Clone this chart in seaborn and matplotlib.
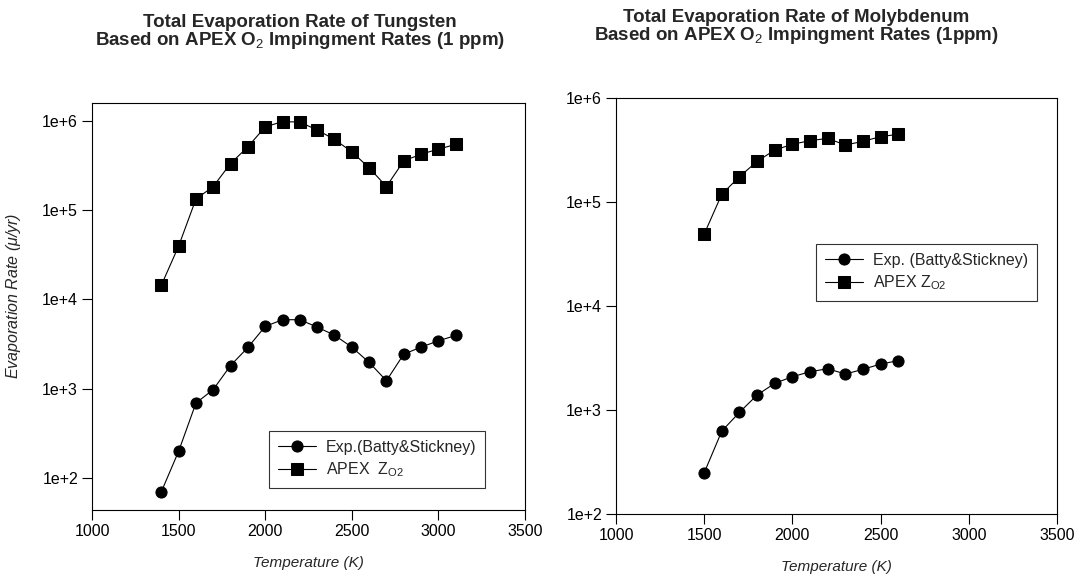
import numpy as np
import pandas as pd
import matplotlib
matplotlib.use("Agg")
import matplotlib.pyplot as plt
import seaborn as sns
from matplotlib.ticker import FixedLocator, FuncFormatter, NullLocator

# ---- data ----
w_temp = [1400, 1500, 1600, 1700, 1800, 1900, 2000, 2100, 2200, 2300, 2400,
          2500, 2600, 2700, 2800, 2900, 3000, 3100]
w_exp = [70, 199, 690, 980, 1820, 2900, 4990, 5930, 5930, 4900, 3980,
         2925, 1970, 1230, 2440, 2925, 3440, 3950]
w_apex = [1.44e4, 3.95e4, 1.33e5, 1.84e5, 3.33e5, 5.12e5, 8.57e5, 9.8e5, 9.7e5,
          7.9e5, 6.2e5, 4.5e5, 2.98e5, 1.84e5, 3.56e5, 4.24e5, 4.82e5, 5.45e5]

mo_temp = [1500, 1600, 1700, 1800, 1900, 2000, 2100, 2200, 2300, 2400, 2500, 2600]
mo_exp = [249, 628, 950, 1394, 1806, 2090, 2333, 2494, 2218, 2460, 2767, 2980]
mo_apex = [4.92e4, 1.19e5, 1.75e5, 2.46e5, 3.16e5, 3.59e5, 3.89e5, 4.09e5,
           3.53e5, 3.83e5, 4.25e5, 4.48e5]

x_ticks = [1000, 1500, 2000, 2500, 3000, 3500]
y_ticks = [1e2, 1e3, 1e4, 1e5, 1e6]

title_w = ["Total Evaporation Rate of Tungsten",
           "Based on APEX O$_\\mathrm{2}$ Impingment Rates (1 ppm)"]
title_mo = ["Total Evaporation Rate of Molybdenum",
            "Based on APEX O$_\\mathrm{2}$ Impingment Rates (1ppm)"]
lab_exp_w = "Exp.(Batty&Stickney)"
lab_exp_mo = "Exp. (Batty&Stickney)"
lab_apex_w = "APEX  Z$_\\mathrm{O2}$"
lab_apex_mo = "APEX Z$_\\mathrm{O2}$"
xlabel = "Temperature (K)"
ylabel = "Evaporation Rate ($\\mu$/yr)"

sns.set_theme(style="ticks")
plt.rcParams['font.family'] = ['Liberation Sans', 'DejaVu Sans']
plt.rcParams['mathtext.fontset'] = 'custom'
plt.rcParams['mathtext.rm'] = 'Liberation Sans'
plt.rcParams['mathtext.it'] = 'Liberation Sans:italic'
plt.rcParams['mathtext.bf'] = 'Liberation Sans:bold'

fig = plt.figure(figsize=(10.83, 5.77), dpi=100)
ax1 = fig.add_axes([92/1083, 1-510/577, (525-92)/1083, (510-103)/577])
ax2 = fig.add_axes([616/1083, 1-514/577, (1057-616)/1083, (514-98)/577])


def draw(ax, temp, exp, apex, lab_e, lab_a, ylim):
    df_e = pd.DataFrame({"T": temp, "v": exp})
    df_a = pd.DataFrame({"T": temp, "v": apex})
    sns.lineplot(data=df_e, x="T", y="v", ax=ax, color="black", marker="o",
                 markersize=8, markeredgecolor="black", linewidth=0.8, label=lab_e)
    sns.lineplot(data=df_a, x="T", y="v", ax=ax, color="black", marker="s",
                 markersize=8, markeredgecolor="black", linewidth=0.8, label=lab_a)
    ax.set_yscale("log")
    ax.set_xlim(1000, 3500)
    ax.set_ylim(*ylim)
    ax.xaxis.set_major_locator(FixedLocator(x_ticks))
    ax.yaxis.set_major_locator(FixedLocator(y_ticks))
    ax.yaxis.set_minor_locator(NullLocator())
    ax.xaxis.set_minor_locator(NullLocator())
    ax.yaxis.set_major_formatter(FuncFormatter(lambda v, p: "1e+%d" % round(np.log10(v))))
    ax.tick_params(direction="out", length=7, width=0.8, labelsize=11.5, colors="black", pad=3)
    for s in ax.spines.values():
        s.set_visible(True)
        s.set_color("black")
        s.set_linewidth(0.8)
    ax.set_xlabel(xlabel, fontsize=11, style="italic", labelpad=12)


draw(ax1, w_temp, w_exp, w_apex, lab_exp_w, lab_apex_w, (10**1.642, 10**6.2))
draw(ax2, mo_temp, mo_exp, mo_apex, lab_exp_mo, lab_apex_mo, (1e2, 1e6))

ax1.set_ylabel(ylabel, fontsize=11.5, style="italic")
ax1.yaxis.set_label_coords((23-92)/433, (510-296)/407)
ax2.set_ylabel("")

leg_kw = dict(frameon=True, fancybox=False, edgecolor="black", fontsize=11.5,
              handlelength=2.4, borderpad=0.55, labelspacing=0.35, handletextpad=0.6,
              borderaxespad=0)
leg1 = ax1.legend(loc="lower left", bbox_to_anchor=((269-92)/433, (510-488)/407), **leg_kw)
leg1.get_frame().set_linewidth(0.8)
leg2 = ax2.legend(loc="upper left", bbox_to_anchor=((816-616)/441, (514-244)/416), **leg_kw)
leg2.get_frame().set_linewidth(0.8)

for (cx, b1, b2), lines in [((300, 27, 45), title_w), ((796, 22, 40), title_mo)]:
    fig.text(cx/1083, 1-b1/577, lines[0], ha="center", va="baseline", fontsize=13.5,
             fontweight="bold")
    fig.text(cx/1083, 1-b2/577, lines[1], ha="center", va="baseline", fontsize=13.5,
             fontweight="bold")

fig.savefig("out.png", dpi=100)
